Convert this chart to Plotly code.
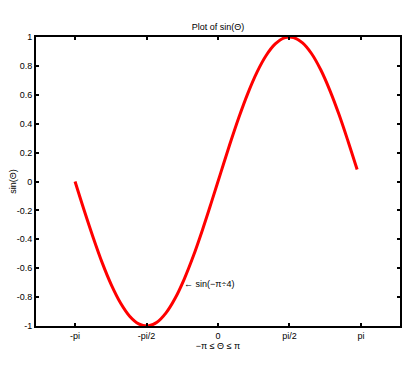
import plotly.graph_objects as go

theta = [-3.142, -2.942, -2.742, -2.542, -2.342, -2.142, -1.942, -1.742,
         -1.542, -1.342, -1.142, -0.942, -0.742, -0.542, -0.342, -0.142,
         0.058, 0.258, 0.458, 0.658, 0.858, 1.058, 1.258, 1.458,
         1.658, 1.858, 2.058, 2.258, 2.458, 2.658, 2.858, 3.058]
sin_vals = [0.0, -0.199, -0.389, -0.565, -0.717, -0.841, -0.932, -0.985,
            -1.0, -0.974, -0.909, -0.808, -0.675, -0.516, -0.335, -0.141,
            0.058, 0.256, 0.443, 0.612, 0.757, 0.872, 0.952, 0.994,
            0.996, 0.959, 0.884, 0.773, 0.631, 0.465, 0.279, 0.083]
x_tick_vals = [-3.14159, -1.5708, 0, 1.5708, 3.14159]
x_tick_text = ["-pi", "-pi/2", "0", "pi/2", "pi"]
y_tick_vals = [-1, -0.8, -0.6, -0.4, -0.2, 0, 0.2, 0.4, 0.6, 0.8, 1]
y_tick_text = ["-1", "-0.8", "-0.6", "-0.4", "-0.2", "0", "0.2", "0.4", "0.6", "0.8", "1"]
annot_x, annot_y = -0.785, -0.707

font = dict(family="Liberation Sans, Arial, sans-serif", size=9, color="black")

fig = go.Figure()
fig.add_trace(go.Scatter(x=theta, y=sin_vals, mode="lines",
                         line=dict(color="#ff0000", width=3, shape="spline"),
                         showlegend=False, hoverinfo="skip"))

fig.add_annotation(x=annot_x, y=annot_y, text="← sin(−π÷4)", showarrow=False,
                   xanchor="left", yanchor="middle", font=font)

axis_common = dict(showline=True, linecolor="black", linewidth=2, mirror="ticks",
                   ticks="inside", ticklen=3, tickwidth=2, tickcolor="black",
                   showgrid=False, zeroline=False, tickfont=font, automargin=False)

fig.update_layout(
    width=404, height=360,
    margin=dict(l=28, r=12, t=29, b=42),
    paper_bgcolor="white", plot_bgcolor="white",
    font=font,
    title=dict(text="Plot of sin(Θ)", x=0.52, xanchor="center", y=0.947, yanchor="middle",
               automargin=False,
               font=dict(family="Liberation Sans, Arial, sans-serif", size=9, color="black")),
    xaxis=dict(range=[-4, 4], tickvals=x_tick_vals, ticktext=x_tick_text,
               title=dict(text="−π ≤ Θ ≤ π", standoff=0, font=font), **axis_common),
    yaxis=dict(range=[-1, 1], tickvals=y_tick_vals, ticktext=y_tick_text,
               title=dict(text="sin(Θ)", standoff=7, font=font), **axis_common),
)

fig.write_html("out.html")
